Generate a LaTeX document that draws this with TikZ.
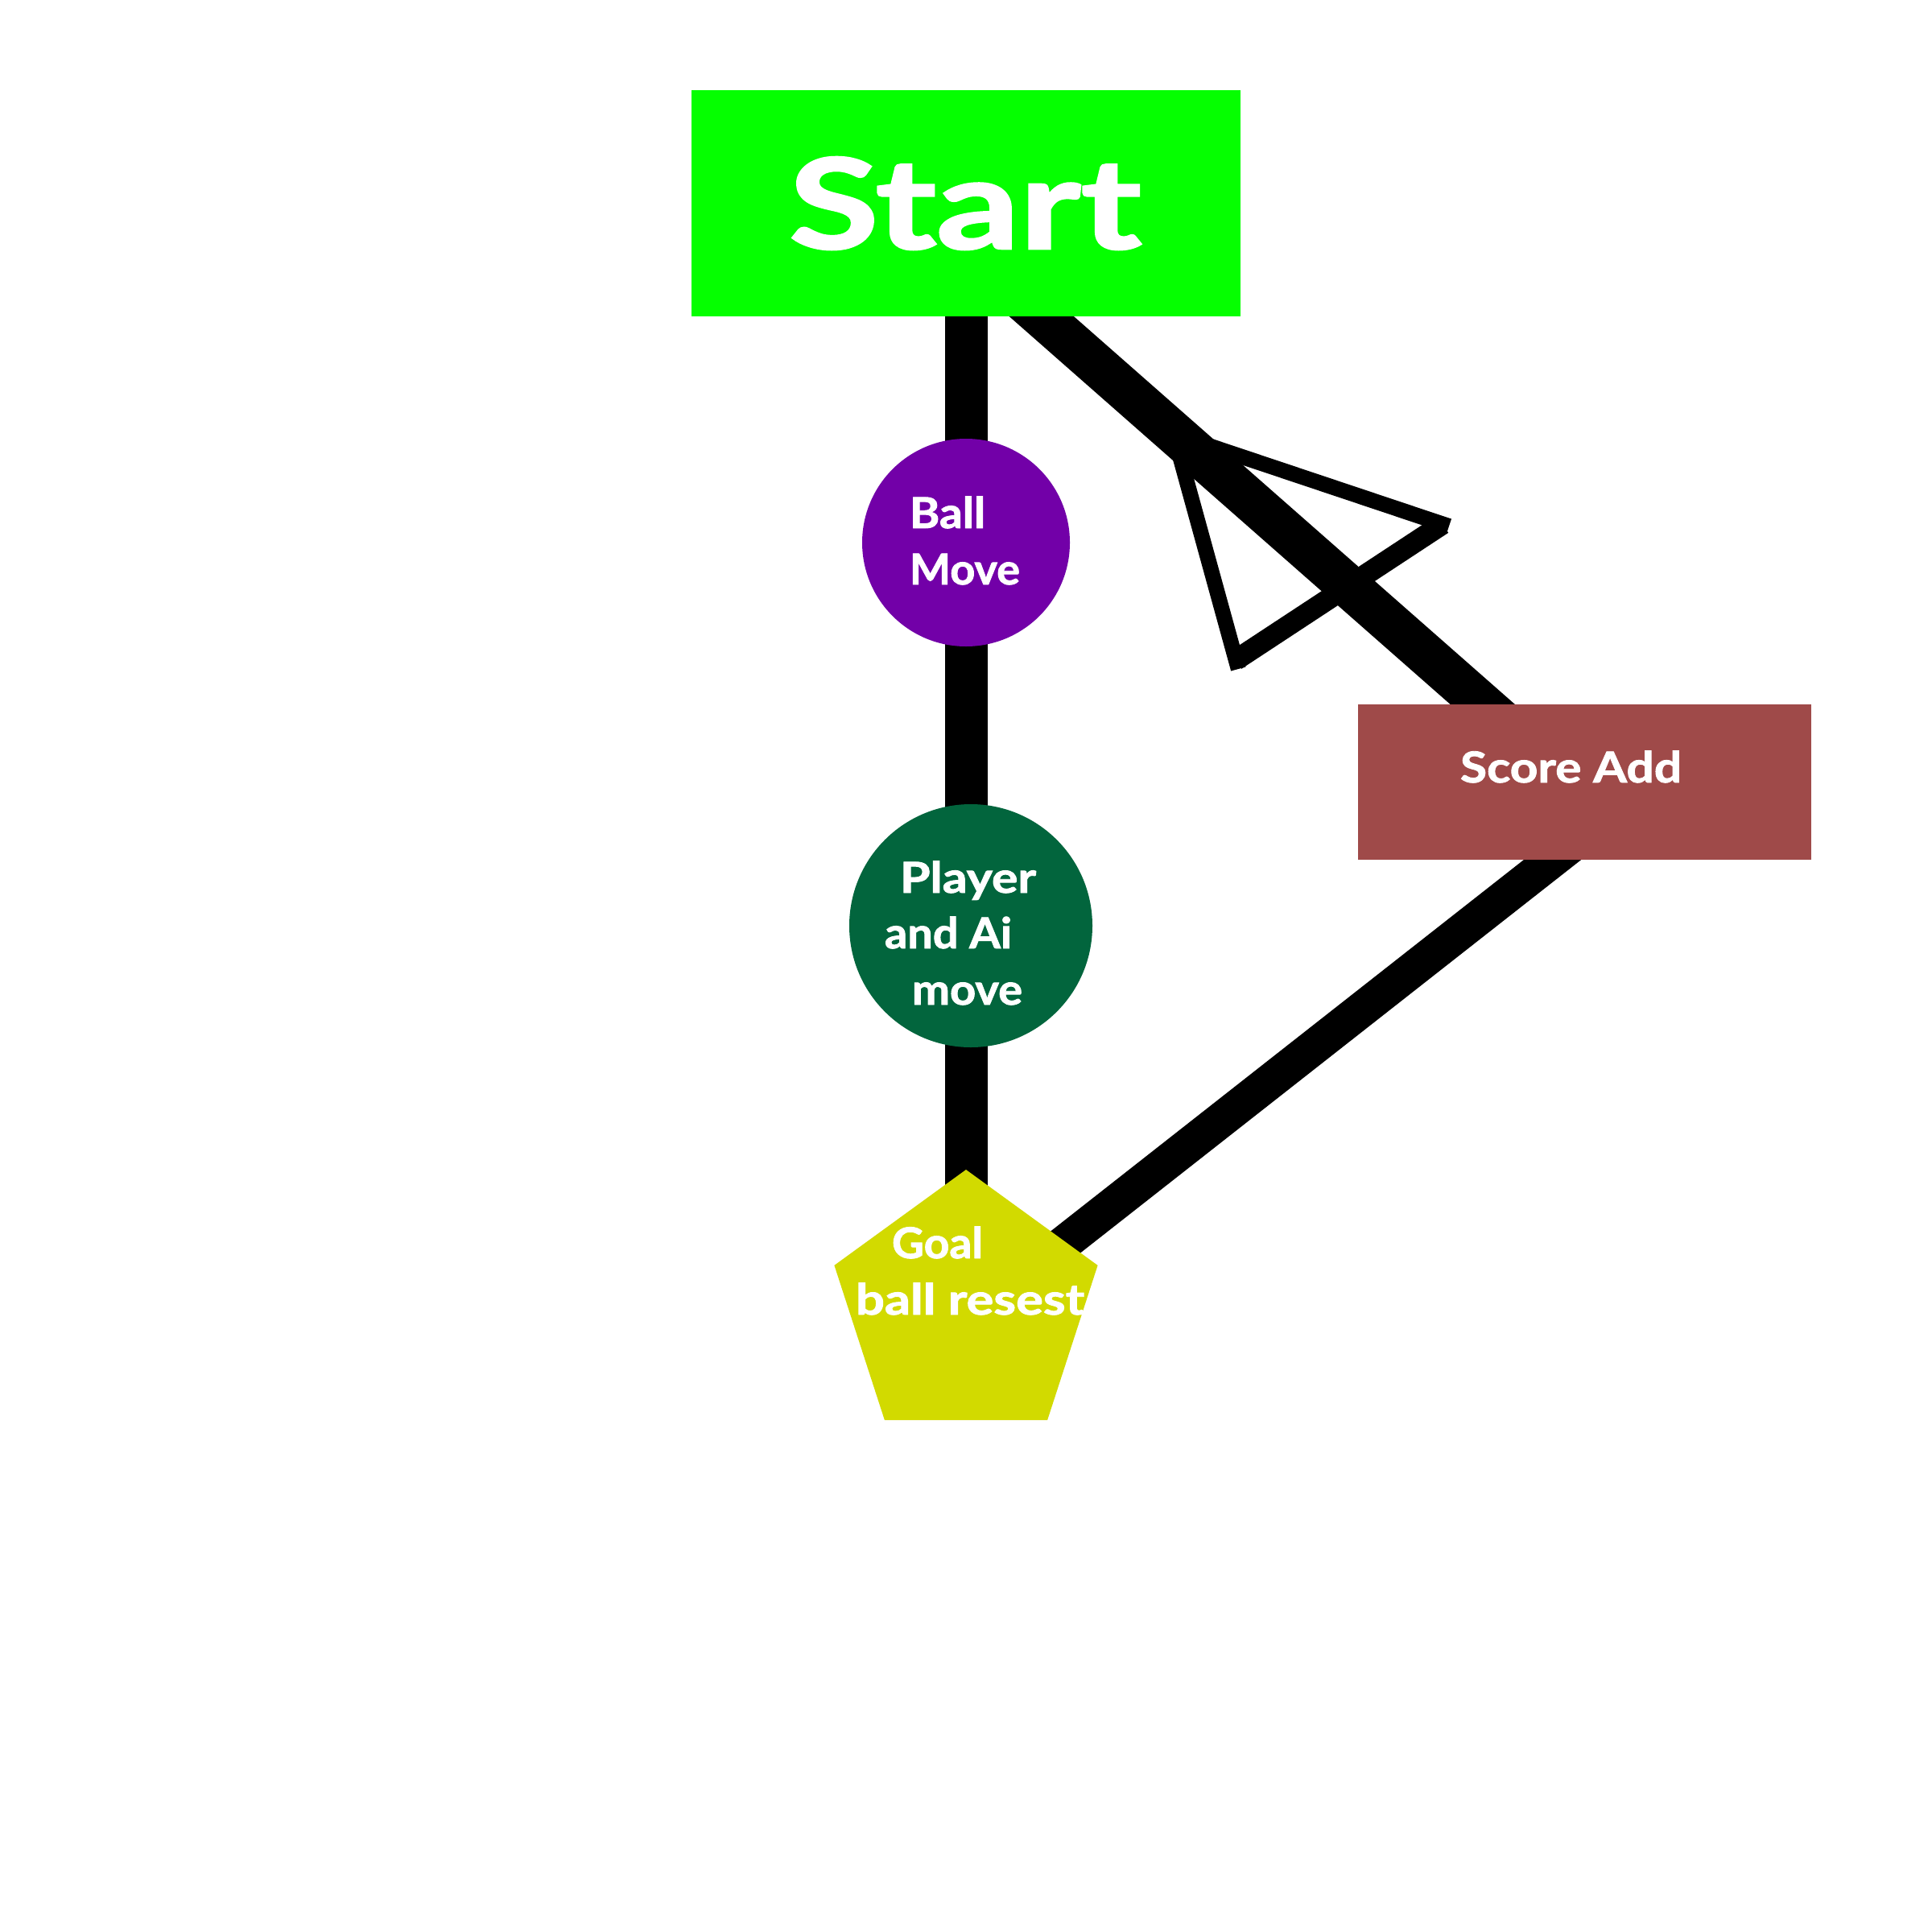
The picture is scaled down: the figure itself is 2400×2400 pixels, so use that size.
\documentclass[tikz,border=0pt]{standalone}
\usepackage{fontspec}
\usepackage{graphicx}
\setmainfont{Lato}
\newfontfamily\lblfont{Lato}[BoldFeatures={FakeBold=1.6}]
\usetikzlibrary{shapes.geometric,calc,backgrounds}
\pgfdeclarelayer{canvas}
\pgfsetlayers{canvas,background,main}
\definecolor{startgreen}{RGB}{5,255,0}
\definecolor{ballpurple}{RGB}{114,0,168}
\definecolor{playergreen}{RGB}{2,101,61}
\definecolor{goalyellow}{RGB}{210,218,0}
\definecolor{scorered}{RGB}{159,74,73}
\tikzset{
  shapenode/.style={draw=none, inner sep=0pt, outer sep=0pt},
  box/.style={shapenode, rectangle},
  disc/.style={shapenode, circle},
  penta/.style={shapenode, regular polygon, regular polygon sides=5},
  lbl/.style={text=white, inner sep=0pt, outer sep=0pt, anchor=base west, font=\lblfont\fontsize{53}{64}\selectfont\bfseries},
  biglbl/.style={lbl, font=\lblfont\fontsize{156}{186}\selectfont\bfseries},
  conn/.style={draw=black, line cap=butt},
  tri/.style={draw=black, line cap=butt, line width=19pt},
}
\begin{document}
\begin{tikzpicture}[x=1pt,y=-1pt]
\useasboundingbox (0,0) rectangle (2400,2400);
\begin{pgfonlayer}{canvas}
\fill[white] (0,0) rectangle (2400,2400);
\end{pgfonlayer}
% shapes
\node[box, fill=startgreen, minimum width=682pt, minimum height=281pt] (start) at (1200,252.5) {};
\node[disc, fill=ballpurple, minimum size=258pt] (ball) at (1200,674) {};
\node[disc, fill=playergreen, minimum size=302pt] (player) at (1206,1150) {};
\node[penta, fill=goalyellow, minimum size=344pt] (goal) at (1200,1625) {};
\node[box, fill=scorered, minimum width=563pt, minimum height=193pt] (score) at (1968.5,971.5) {};
% labels
\node[biglbl] (startlbl) at (980,309) {\resizebox{438pt}{\height}{Start}};
\node[lbl] (ball1) at (1130,656) {\resizebox{94pt}{\height}{Ball}};
\node[lbl] (ball2) at (1130,726) {\resizebox{137pt}{\height}{Move}};
\node[lbl] (pl1) at (1118,1109) {\resizebox{169pt}{\height}{Player}};
\node[lbl] (pl2) at (1099,1178) {\resizebox{158pt}{\height}{and Ai}};
\node[lbl] (pl3) at (1133,1248) {\resizebox{137pt}{\height}{move}};
\node[lbl] (go1) at (1108,1563) {\resizebox{113pt}{\height}{Goal}};
\node[lbl] (go2) at (1063,1633) {\resizebox{284pt}{\height}{ball resest}};
\node[lbl] (sc1) at (1814,972) {\resizebox{275pt}{\height}{Score Add}};
% triangle marker
\coordinate (A) at (1458,539);
\coordinate (B) at (1535,820);
\coordinate (Bend) at (1538.3,831);
\coordinate (C) at (1792,651);
\coordinate (Cend) at (1800,653.6);
% connectors behind the shapes
\begin{pgfonlayer}{background}
\draw[conn, line width=53pt] (start.center) -- (start.center |- goal.center);
\draw[conn, line width=53pt] ($(start.center)+(-66,0)$) -- ($(score.center)+(-17,0)$);
\draw[conn, line width=44pt] ($(score.center)+(83,0)$) -- ($(goal.center)+(0,15)$);
\end{pgfonlayer}
\draw[tri] (A) -- (Bend);
\draw[tri] (A) -- (Cend);
\draw[tri, line width=26pt] (B) -- (C);
\end{tikzpicture}
\end{document}
